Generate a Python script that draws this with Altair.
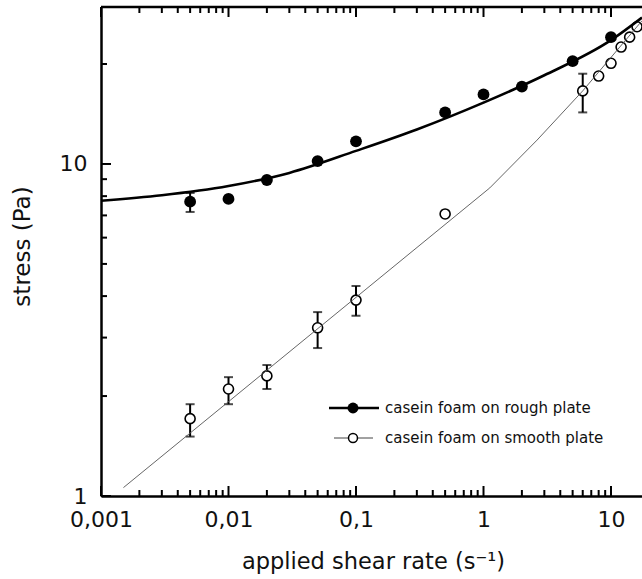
import altair as alt
import pandas as pd

# ---- measured data: stress (Pa) versus applied shear rate (1/s) ----
rough_rate = [0.005, 0.01, 0.02, 0.05, 0.1, 0.5, 1, 2, 5, 10]
rough_stress = [7.7, 7.85, 8.95, 10.2, 11.7, 14.3, 16.2, 17.1, 20.4, 24.1]
rough_err_rate = [0.005]
rough_err_lo = [7.17]
rough_err_hi = [8.18]

smooth_rate = [0.005, 0.01, 0.02, 0.05, 0.1, 0.5, 6, 8, 10, 12, 14, 16]
smooth_stress = [1.71, 2.10, 2.30, 3.21, 3.89, 7.07, 16.6, 18.4, 20.1, 22.5, 24.1, 25.9]
smooth_err_rate = [0.005, 0.01, 0.02, 0.05, 0.1, 6]
smooth_err_lo = [1.51, 1.89, 2.10, 2.79, 3.49, 14.3]
smooth_err_hi = [1.89, 2.28, 2.48, 3.58, 4.29, 18.7]

# ---- model curves ----
rough_fit_rate = [0.001, 0.003, 0.01, 0.03, 0.1, 0.3, 1, 3, 10, 17.5]
rough_fit_stress = [7.75, 8.05, 8.58, 9.4, 10.95, 12.7, 15.3, 18.5, 23.6, 27.6]
smooth_fit_rate = [0.0015, 1.12, 2.63, 6, 17.5]
smooth_fit_stress = [1.06, 8.47, 11.8, 16.6, 27.0]

series_names = ["casein foam on rough plate", "casein foam on smooth plate"]

# ---- axis ticks ----
x_major = [0.001, 0.01, 0.1, 1, 10]
x_minor = [m * d for d in [0.001, 0.01, 0.1, 1, 10] for m in range(2, 10) if m * d <= 17.5]
y_major = [1, 10]
y_minor = [2, 3, 4, 5, 6, 7, 8, 9, 20]

W, H = 541, 489
FONT = "DejaVu Sans"
X_DOMAIN = [0.001, 17.5]
Y_DOMAIN = [1, 29.7]

xs = alt.Scale(type="log", domain=X_DOMAIN, nice=False)
ys = alt.Scale(type="log", domain=Y_DOMAIN, nice=False)
comma_label = "replace(format(datum.value, '~g'), '.', ',')"

x_axis = alt.Axis(
    values=x_major, labelExpr=comma_label, ticks=False, grid=False,
    domainWidth=2.5, domainColor="black", labelFont=FONT, labelFontSize=22,
    labelColor="#111111", labelPadding=13, labelOverlap=False, labelFlush=False,
    labelBound=False, title="applied shear rate (s\u207b\u00b9)", titleFont=FONT,
    titleFontSize=22.5, titleFontWeight="normal", titleColor="#111111",
    titleX=272, titleY=72, titleBaseline="alphabetic", titleAlign="center",
)
y_axis = alt.Axis(
    values=y_major, labelExpr=comma_label, ticks=False, grid=False,
    domainWidth=2.5, domainColor="black", labelFont=FONT, labelFontSize=22,
    labelColor="#111111", labelPadding=14, labelOverlap=False, labelFlush=False,
    labelBound=False, title="stress (Pa)", titleFont=FONT, titleFontSize=23,
    titleFontWeight="normal", titleColor="#111111", titleX=-79, titleY=239,
    titleBaseline="middle", titleAlign="center", titleAngle=-90,
)


def X(field):
    return alt.X(f"{field}:Q", scale=xs, axis=x_axis)


def Y(field):
    return alt.Y(f"{field}:Q", scale=ys, axis=y_axis)


rough_df = pd.DataFrame({"rate": rough_rate, "stress": rough_stress})
smooth_df = pd.DataFrame({"rate": smooth_rate, "stress": smooth_stress})
rough_err = pd.DataFrame({"rate": rough_err_rate, "lo": rough_err_lo, "hi": rough_err_hi})
smooth_err = pd.DataFrame({"rate": smooth_err_rate, "lo": smooth_err_lo, "hi": smooth_err_hi})
rough_fit = pd.DataFrame({"rate": rough_fit_rate, "stress": rough_fit_stress})
smooth_fit = pd.DataFrame({"rate": smooth_fit_rate, "stress": smooth_fit_stress})
err_all = pd.concat([rough_err, smooth_err], ignore_index=True)

layers = []

# inward tick marks on bottom, top and left
def xticks(vals, length, top):
    df = pd.DataFrame({"rate": vals})
    yy, yy2 = (0, length) if top else (H, H - length)
    return alt.Chart(df).mark_rule(color="black", strokeWidth=2).encode(
        x=X("rate"), y=alt.value(yy), y2=alt.value(yy2)
    )


def yticks(vals, length):
    df = pd.DataFrame({"stress": vals})
    return alt.Chart(df).mark_rule(color="black", strokeWidth=2).encode(
        y=Y("stress"), x=alt.value(0), x2=alt.value(length)
    )


layers += [
    xticks(x_major, 10, False), xticks(x_minor, 6, False),
    xticks(x_major, 10, True), xticks(x_minor, 6, True),
    yticks(y_major, 10), yticks(y_minor, 6),
]

# top frame line
layers.append(
    alt.Chart(pd.DataFrame({"a": [0]})).mark_rule(color="black", strokeWidth=2.5).encode(
        x=alt.value(0), x2=alt.value(W), y=alt.value(0)
    )
)

# error bars with caps
layers.append(
    alt.Chart(err_all).mark_rule(color="black", strokeWidth=2).encode(
        x=X("rate"), y=Y("lo"), y2="hi:Q",
    )
)
for col in ["lo", "hi"]:
    layers.append(
        alt.Chart(err_all).mark_tick(color="black", orient="horizontal", size=9, thickness=2).encode(
            x=X("rate"), y=Y(col),
        )
    )

# open circles, smooth plate
layers.append(
    alt.Chart(smooth_df).mark_point(shape="circle", size=100, filled=False, fill="white",
                                    stroke="black", strokeWidth=1.6, opacity=1).encode(
        x=X("rate"), y=Y("stress")
    )
)
# thin line on top so it shows through the circles
layers.append(
    alt.Chart(smooth_fit).mark_line(color="#555555", strokeWidth=0.9).encode(
        x=X("rate"), y=Y("stress")
    )
)

# thick fit line, rough plate
layers.append(
    alt.Chart(rough_fit).mark_line(color="black", strokeWidth=2.6, interpolate="monotone").encode(
        x=X("rate"), y=Y("stress")
    )
)
# filled circles, rough plate
layers.append(
    alt.Chart(rough_df).mark_point(shape="circle", size=140, filled=True, color="black", opacity=1).encode(
        x=X("rate"), y=Y("stress")
    )
)

# legend
one = pd.DataFrame({"a": [0]})
LY1, LY2 = 401, 431
layers += [
    alt.Chart(one).mark_rule(color="black", strokeWidth=2.5).encode(
        x=alt.value(228), x2=alt.value(278), y=alt.value(LY1)),
    alt.Chart(one).mark_point(shape="circle", size=120, filled=True, color="black", opacity=1).encode(
        x=alt.value(252), y=alt.value(LY1)),
    alt.Chart(one).mark_rule(color="#444444", strokeWidth=1).encode(
        x=alt.value(233), x2=alt.value(272), y=alt.value(LY2)),
    alt.Chart(one).mark_point(shape="circle", size=80, filled=False, fill="white",
                              stroke="black", strokeWidth=1.5, opacity=1).encode(
        x=alt.value(252), y=alt.value(LY2)),
]
legend_df = pd.DataFrame({"name": series_names, "py": [LY1, LY2]})
layers.append(
    alt.Chart(legend_df).mark_text(align="left", baseline="middle", font=FONT, fontSize=15,
                                   color="#111111").encode(
        x=alt.value(284), y=alt.Y("py:Q", scale=None, axis=None), text="name:N")
)

chart = alt.layer(*layers).properties(
    width=W, height=H,
    padding={"left": 101, "top": 7, "right": 0, "bottom": 83},
    autosize=alt.AutoSizeParams(type="none"),
    background="white",
).configure_view(stroke=None)

chart.save("out.html", embed_options={"renderer": "svg", "actions": False})
